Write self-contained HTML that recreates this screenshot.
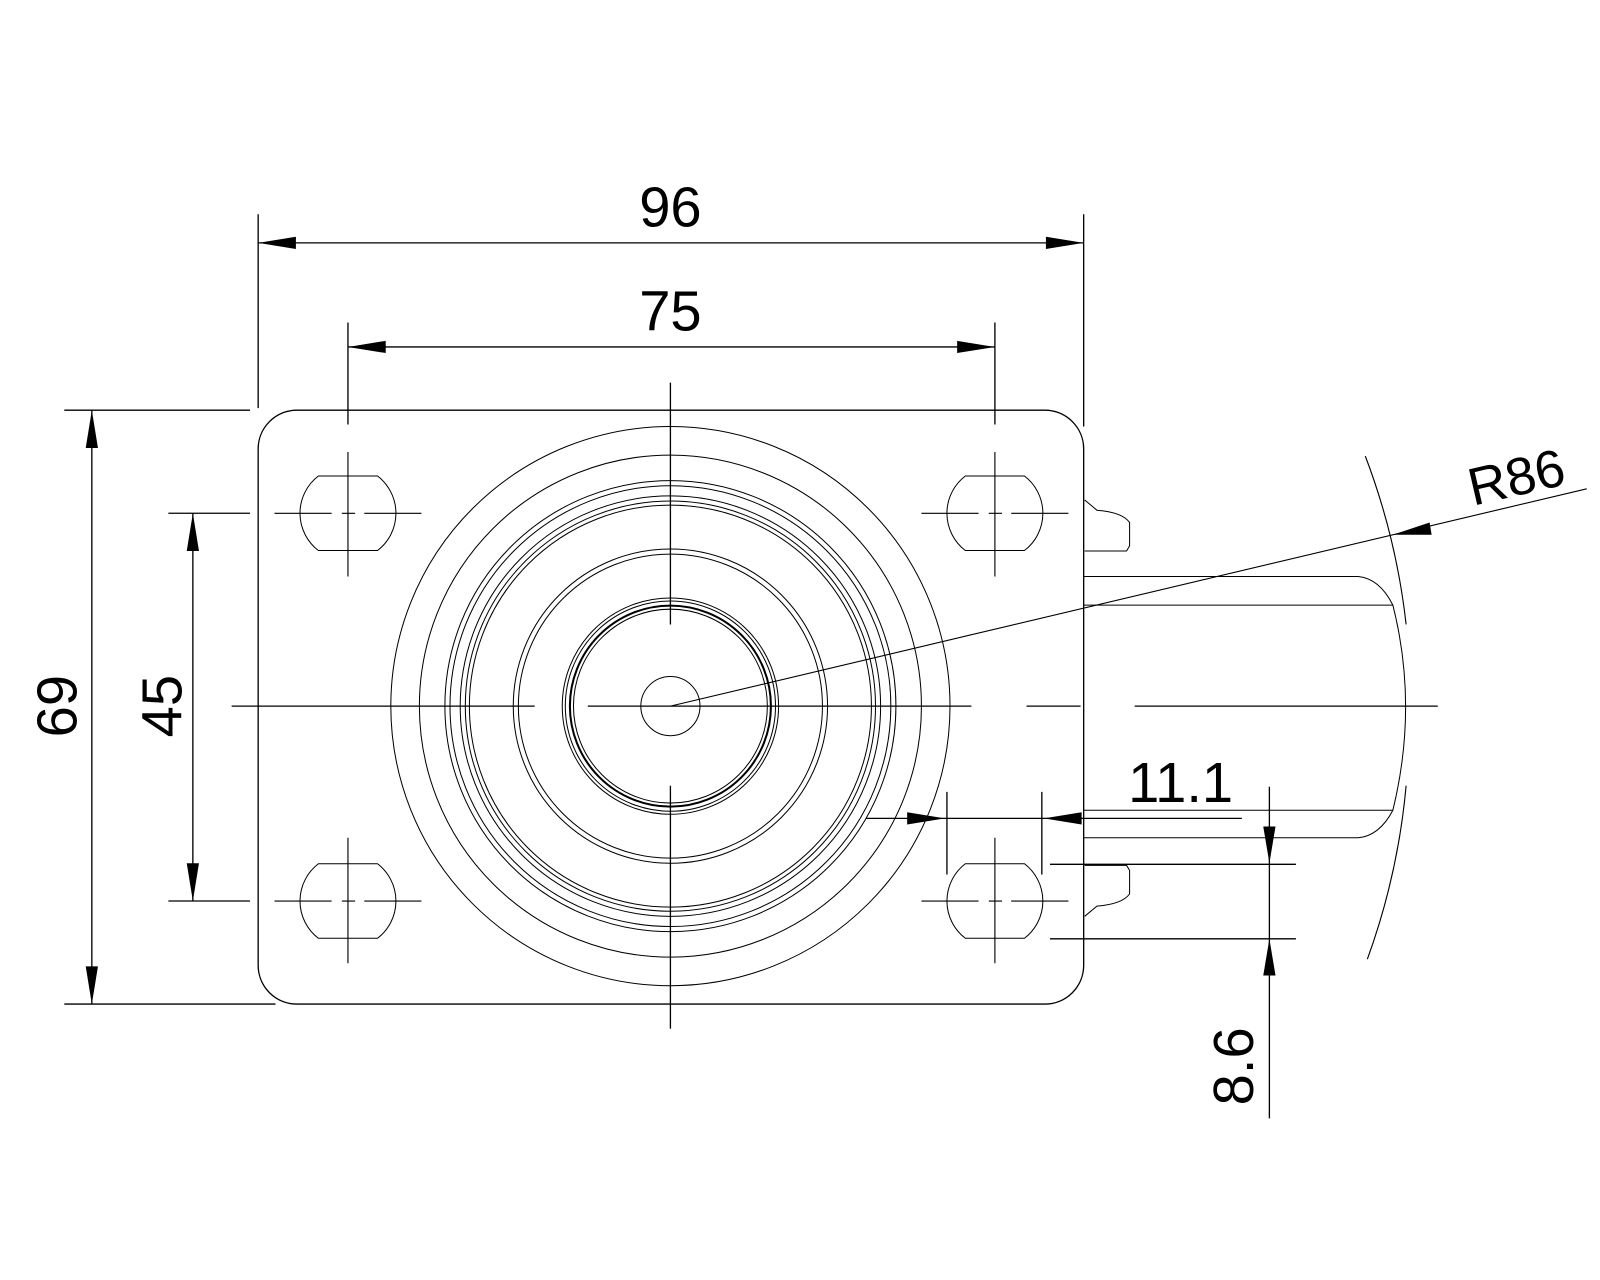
<!DOCTYPE html>
<html><head><meta charset="utf-8"><style>html,body{margin:0;padding:0;background:#fff}svg{display:block}text{font-family:"Liberation Sans",sans-serif;fill:#000}</style></head>
<body>
<svg width="1600" height="1280" viewBox="0 0 1568 1254.4" xmlns="http://www.w3.org/2000/svg">
<g fill="none" stroke="#000" stroke-width="1.3">
<!-- plate -->
<rect x="253" y="402" width="809" height="582" rx="38" ry="38"/>
<!-- circles -->
<g stroke-width="1">
<circle cx="657" cy="692" r="274"/>
<circle cx="657" cy="692" r="246"/>
<circle cx="657" cy="692" r="221"/>
<circle cx="657" cy="692" r="216"/>
<circle cx="657" cy="692" r="206"/>
<circle cx="657" cy="692" r="201"/>
<circle cx="657" cy="692" r="197"/>
<circle cx="657" cy="692" r="154"/>
<circle cx="657" cy="692" r="149"/>
<circle cx="657" cy="692" r="106"/>
<circle cx="657" cy="692" r="103"/>
<circle cx="657" cy="692" r="98.5" stroke-width="2"/>
<circle cx="657" cy="692" r="95"/>
<circle cx="657" cy="692" r="29"/>
</g>
<!-- holes -->
<g stroke-width="1">
<path d="M312,466.5 L370,466.5 A46,46 0 0 1 370,539.5 L312,539.5 A46,46 0 0 1 312,466.5Z"/>
<path d="M946,466.5 L1004,466.5 A46,46 0 0 1 1004,539.5 L946,539.5 A46,46 0 0 1 946,466.5Z"/>
<path d="M312,846.5 L370,846.5 A46,46 0 0 1 370,919.5 L312,919.5 A46,46 0 0 1 312,846.5Z"/>
<path d="M946,846.5 L1004,846.5 A46,46 0 0 1 1004,919.5 L946,919.5 A46,46 0 0 1 946,846.5Z"/>
</g>
<!-- hole crosshairs -->
<g stroke-width="1.1">
<path d="M269,503H325M335,503H348M357,503H413M341,443V565"/>
<path d="M903,503H959M969,503H982M991,503H1047M975,443V565"/>
<path d="M269,883H325M335,883H348M357,883H413M341,821V944"/>
<path d="M903,883H959M969,883H982M991,883H1047M975,821V944"/>
</g>
<!-- main center lines -->
<path d="M227,692H524M576,692H952M1006,692H1059M1112,692H1409"/>
<path d="M657,375V612M657,770V1008"/>
<!-- wheel / fork -->
<path d="M1062,565H1331Q1352,567 1365,593Q1390,692 1365,794Q1352,819 1331,821H1062" stroke-width="1"/>
<path d="M1062,593H1365M1062,794H1365" stroke-width="1"/>
<path d="M1063,490L1075,500Q1100,502 1107,512V535L1104,540H1063" stroke-width="1"/>
<path d="M1063,898L1075,888Q1100,886 1107,876V853L1104,848H1063" stroke-width="1"/>
<!-- 96 -->
<path d="M253,210V400M1062,210V418M253,238H1062"/>
<!-- 75 -->
<path d="M341,316V416M975,316V416M341,340H975"/>
<!-- 69 -->
<path d="M63,402H245M63,984H270M90,402V984"/>
<!-- 45 -->
<path d="M165,503H245M165,883H245M189,503V883"/>
<!-- 11.1 -->
<path d="M928,776V857M1021,776V857M849,802H1217"/>
<!-- 8.6 -->
<path d="M1029,847H1270M1029,920H1270M1244,771V1096"/>
<!-- R86 -->
<path d="M657,692L1555,479" stroke-width="1.1"/>
<path d="M1338,447A675,675 0 0 1 1378,612M1378,770A675,675 0 0 1 1340,940" stroke-width="1.1"/>
</g>
<g fill="#000" stroke="none">
<!-- 96 arrows -->
<polygon points="253,238 290,232 290,244"/>
<polygon points="1062,238 1025,232 1025,244"/>
<!-- 75 -->
<polygon points="341,340 378,334 378,346"/>
<polygon points="975,340 938,334 938,346"/>
<!-- 69 -->
<polygon points="90,402 84,439 96,439"/>
<polygon points="90,984 84,947 96,947"/>
<!-- 45 -->
<polygon points="189,503 183,540 195,540"/>
<polygon points="189,883 183,846 195,846"/>
<!-- 11.1 -->
<polygon points="926,802 889,796 889,808"/>
<polygon points="1023,802 1060,796 1060,808"/>
<!-- 8.6 -->
<polygon points="1244,846 1238,810 1250,810"/>
<polygon points="1244,920 1238,956 1250,956"/>
<!-- R86 -->
<polygon points="1365,524 1401,512 1403,524"/>
</g>
<text x="657" y="222" font-size="55" text-anchor="middle">96</text>
<text x="657" y="324" font-size="55" text-anchor="middle">75</text>
<text x="1157" y="786" font-size="55" text-anchor="middle">11.1</text>
<text transform="translate(75,692) rotate(-90)" font-size="55" text-anchor="middle">69</text>
<text transform="translate(178,692) rotate(-90)" font-size="55" text-anchor="middle">45</text>
<text transform="translate(1228,1045) rotate(-90)" font-size="55" text-anchor="middle">8.6</text>
<text transform="translate(1490,485) rotate(-13)" font-size="52" text-anchor="middle">R86</text>
</svg>
</body></html>
